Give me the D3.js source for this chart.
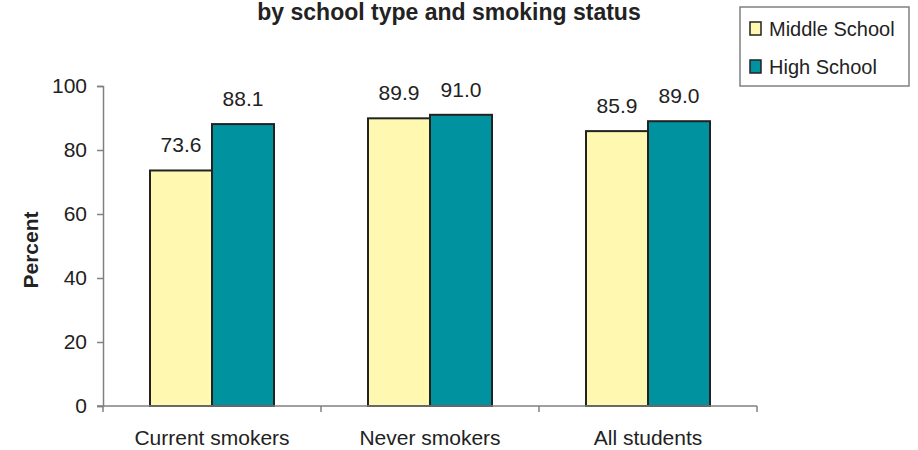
<!DOCTYPE html>
<html>
<head>
<meta charset="utf-8">
<script src="https://cdn.jsdelivr.net/npm/d3@7"></script>
<style>
body{margin:0;background:#fff;}
text{font-family:Arial,"Liberation Sans",sans-serif;fill:#222;}
</style>
</head>
<body>
<svg id="chart" width="918" height="450"></svg>
<script>
const categories = ["Current smokers", "Never smokers", "All students"];
const seriesNames = ["Middle School", "High School"];
const middleSchool = [73.6, 89.9, 85.9];
const highSchool = [88.1, 91.0, 89.0];
const yTicks = [0, 20, 40, 60, 80, 100];
const colors = ["#FFF8B0", "#00939F"];

(function () {
const svg = d3.select("#chart");
const mLeft = 103, mRight = 757, mTop = 86, mBottom = 406;
const fs = "21px";

const x0 = d3.scaleBand().domain(categories).range([mLeft, mRight]).padding(0);
const barW = 62;
const x1 = d3.scaleBand().domain(seriesNames).range([0, barW * 2]).padding(0);
const y = d3.scaleLinear().domain([0, 100]).range([mBottom, mTop]);

// title
svg.append("text").attr("x", 449).attr("y", 20).attr("text-anchor", "middle")
  .style("font-size", "23px").style("font-weight", "bold")
  .text("by school type and smoking status");

// y axis
const yAxis = svg.append("g").attr("transform", `translate(${mLeft},0)`)
  .call(d3.axisLeft(y).tickValues(yTicks).tickSize(6).tickPadding(10));
yAxis.select(".domain").attr("stroke", "#808080").attr("stroke-width", 1.5);
yAxis.selectAll(".tick line").attr("stroke", "#808080").attr("stroke-width", 1.5);
yAxis.selectAll(".tick text").style("font-size", fs).style("font-family", "Arial,'Liberation Sans',sans-serif").attr("fill", "#222");

// y title
svg.append("text").attr("transform", `translate(38,250) rotate(-90)`)
  .attr("text-anchor", "middle").style("font-size", fs).style("font-weight", "bold")
  .text("Percent");

// bars
const data = categories.map((c, i) => ({cat: c, vals: [middleSchool[i], highSchool[i]]}));
const groups = svg.append("g").selectAll("g").data(data).join("g")
  .attr("transform", d => `translate(${x0(d.cat) + x0.bandwidth() / 2 - barW},0)`);
groups.selectAll("rect").data(d => d.vals.map((v, j) => ({s: seriesNames[j], v, j})))
  .join("rect")
  .attr("x", d => x1(d.s))
  .attr("y", d => y(d.v))
  .attr("width", x1.bandwidth())
  .attr("height", d => mBottom - y(d.v))
  .attr("fill", d => colors[d.j])
  .attr("stroke", "#222").attr("stroke-width", 2);
groups.selectAll("text.val").data(d => d.vals.map((v, j) => ({s: seriesNames[j], v, j})))
  .join("text").attr("class", "val")
  .attr("x", d => x1(d.s) + x1.bandwidth() / 2)
  .attr("y", d => y(d.v) - 18)
  .attr("text-anchor", "middle").style("font-size", fs)
  .text(d => d.v.toFixed(1));

// x axis
const xAxisG = svg.append("g").attr("transform", `translate(0,${mBottom})`);
xAxisG.append("line").attr("x1", mLeft - 6).attr("x2", mRight).attr("y1", 0).attr("y2", 0)
  .attr("stroke", "#808080").attr("stroke-width", 1.5);
const bounds = categories.map(c => x0(c)).concat([mRight]);
xAxisG.selectAll("line.tk").data(bounds).join("line").attr("class", "tk")
  .attr("x1", d => d).attr("x2", d => d).attr("y1", 0).attr("y2", 6)
  .attr("stroke", "#808080").attr("stroke-width", 1.5);
xAxisG.selectAll("text").data(categories).join("text")
  .attr("x", d => x0(d) + x0.bandwidth() / 2).attr("y", 39)
  .attr("text-anchor", "middle").style("font-size", fs).text(d => d);

// legend
const lg = svg.append("g");
lg.append("rect").attr("x", 740).attr("y", 7).attr("width", 169).attr("height", 79)
  .attr("fill", "#fff").attr("stroke", "#808080").attr("stroke-width", 1.5);
seriesNames.forEach((s, i) => {
  const yy = 22 + i * 38;
  lg.append("rect").attr("x", 750).attr("y", yy).attr("width", 11).attr("height", 13)
    .attr("fill", colors[i]).attr("stroke", "#222").attr("stroke-width", 1.5);
  lg.append("text").attr("x", 769).attr("y", yy + 14).style("font-size", "20px").text(s);
});
})();
</script>
</body>
</html>
